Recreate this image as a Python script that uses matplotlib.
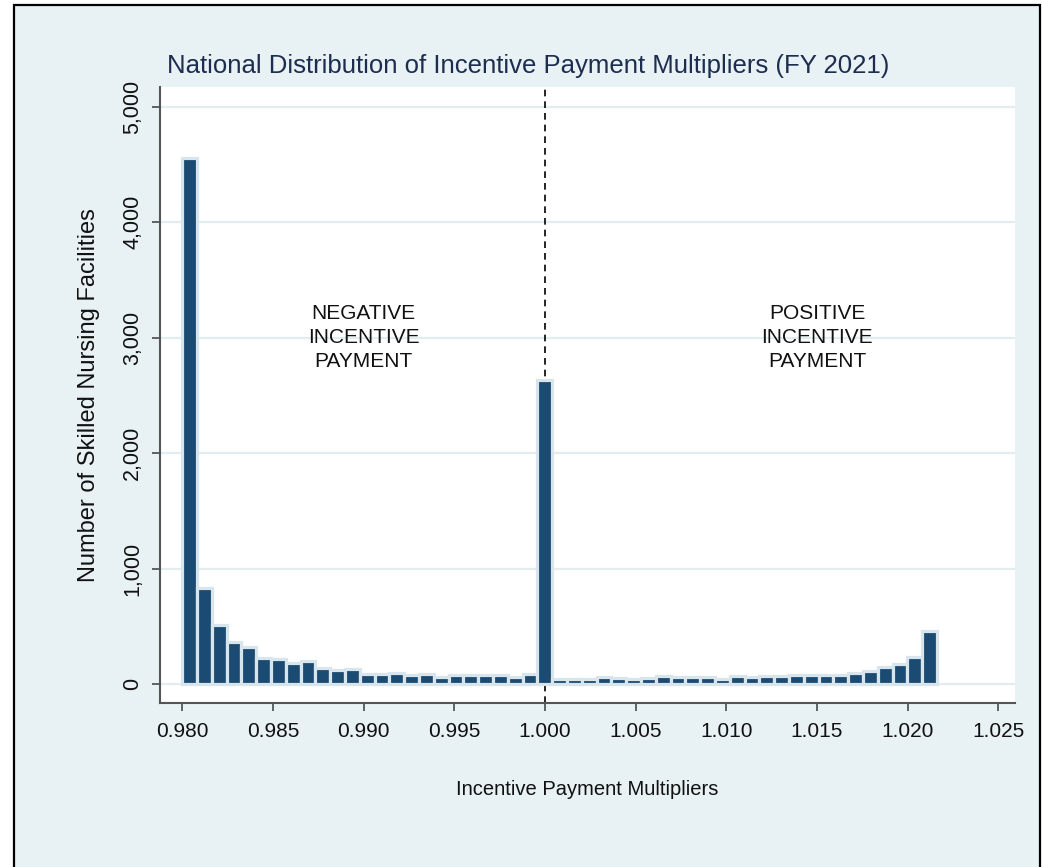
import matplotlib
matplotlib.use("Agg")
import matplotlib.pyplot as plt
from matplotlib.patches import Rectangle
import numpy as np

# ---- data ----
bin_start = 0.98
bin_width = 0.000816
counts = [4552, 834, 517, 363, 324, 231, 222, 185, 199, 144,
          127, 130, 90, 86, 99, 84, 90, 67, 78, 78,
          81, 81, 60, 90, 2637,
          49, 49, 49, 64, 58, 43, 52, 75, 60, 60,
          60, 47, 73, 64, 73, 73, 84, 78, 78, 84,
          101, 112, 147, 179, 240, 465]
x_ticks = [0.980, 0.985, 0.990, 0.995, 1.000, 1.005, 1.010, 1.015, 1.020, 1.025]
y_ticks = [0, 1000, 2000, 3000, 4000, 5000]
title = "National Distribution of Incentive Payment Multipliers (FY 2021)"
xlabel = "Incentive Payment Multipliers"
ylabel = "Number of Skilled Nursing Facilities"
neg_label = "NEGATIVE\nINCENTIVE\nPAYMENT"
pos_label = "POSITIVE\nINCENTIVE\nPAYMENT"
neg_pos = (0.990, 3000)
pos_pos = (1.015, 3000)
ref_line = 1.000

plt.rcParams['font.family'] = ['Liberation Sans', 'DejaVu Sans']

W, H = 1042, 867
fig = plt.figure(figsize=(W / 100, H / 100), dpi=100)
fig.patch.set_facecolor('white')

bg = '#e8f1f3'
border = Rectangle((14 / W, -0.02), (1040 - 14) / W, 1.02 - 5 / H,
                   transform=fig.transFigure, facecolor=bg,
                   edgecolor='black', linewidth=1.6, zorder=-10)
fig.patches.append(border)

ax = fig.add_axes([160 / W, (H - 703) / H, (1015 - 160) / W, (703 - 87.3) / H])
ax.set_zorder(1)
ax.set_facecolor('white')

edges = bin_start + bin_width * np.arange(len(counts))
ax.bar(edges, counts, width=bin_width, align='edge', color='#1b4a72',
       edgecolor='#d9e5ec', linewidth=2.3, zorder=3)

ax.axvline(ref_line, color='black', linestyle=(0, (4, 3)), linewidth=1.2, zorder=2)

ax.set_xlim(0.97877, 1.02592)
ax.set_ylim(-162, 5168)
ax.set_xticks(x_ticks)
ax.set_xticklabels([f"{v:.3f}" for v in x_ticks], fontsize=15, color='#111111')
ax.set_yticks(y_ticks)
ax.set_yticklabels([f"{v:,}" for v in y_ticks], fontsize=15.5, color='#111111',
                   rotation=90, va='center')
ax.yaxis.grid(True, color='#e3edf1', linewidth=1.6, zorder=0)
ax.set_axisbelow(True)

for s in ['top', 'right']:
    ax.spines[s].set_visible(False)
for s in ['left', 'bottom']:
    ax.spines[s].set_color('#555555')
    ax.spines[s].set_linewidth(1.5)
ax.tick_params(axis='both', direction='out', length=6, width=1.3, color='#555555')
ax.tick_params(axis='x', pad=8)
ax.tick_params(axis='y', pad=6)

ax.set_xlabel(xlabel, fontsize=14.5, color='#111111', labelpad=28)
ax.set_ylabel(ylabel, fontsize=17, color='#111111', labelpad=16)

ax.text(*neg_pos, neg_label, ha='center', va='center', fontsize=15,
        color='#111111', linespacing=1.35, zorder=4)
ax.text(*pos_pos, pos_label, ha='center', va='center', fontsize=15,
        color='#111111', linespacing=1.35, zorder=4)

fig.text(528 / W, 1 - 66 / H, title, ha='center', va='center', fontsize=18.5,
         color='#1c2d4f')

fig.savefig('out.png', dpi=100, facecolor=fig.get_facecolor())
